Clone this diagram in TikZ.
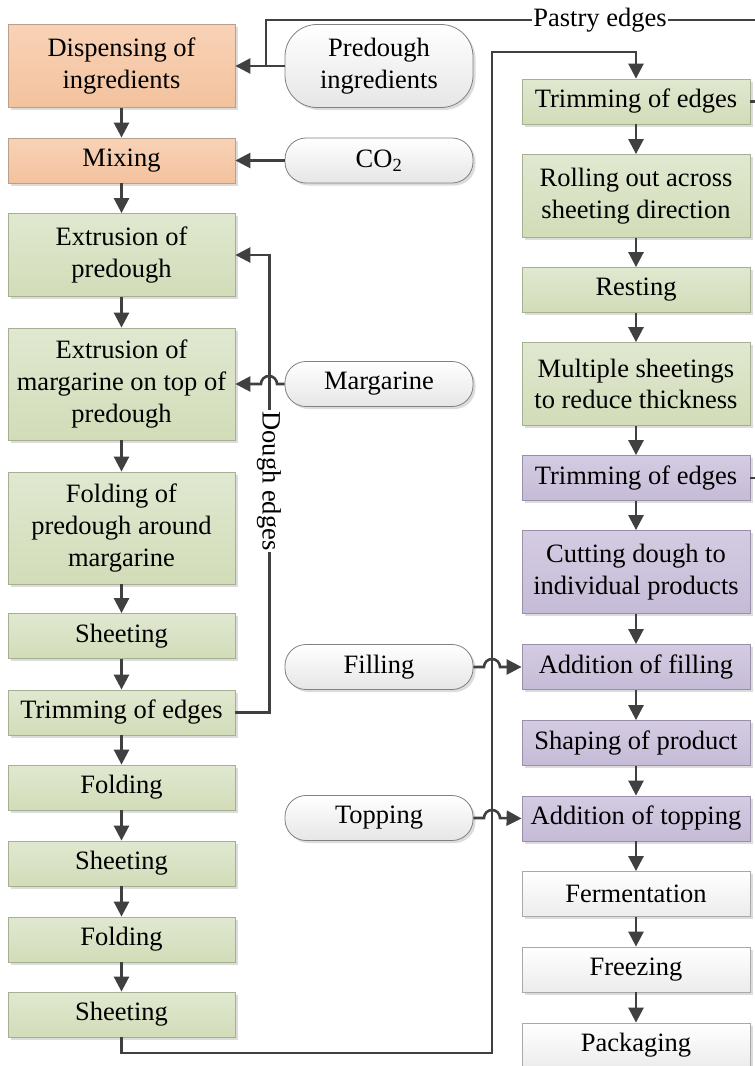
\documentclass[tikz,border=0pt]{standalone}
\usepackage{fontspec}
\setmainfont{Liberation Serif}
\usetikzlibrary{arrows.meta,shadows}
\definecolor{ln}{HTML}{404040}
\definecolor{ortop}{HTML}{F9D2B6}
\definecolor{orbot}{HTML}{F3C29E}
\definecolor{orbd}{HTML}{B9A08E}
\definecolor{grtop}{HTML}{E0E8D0}
\definecolor{grbot}{HTML}{D2DCB8}
\definecolor{grbd}{HTML}{A5AF92}
\definecolor{putop}{HTML}{D4CCE2}
\definecolor{pubot}{HTML}{C5BBD7}
\definecolor{pubd}{HTML}{9890A8}
\definecolor{whbot}{HTML}{ECECEC}
\definecolor{whbd}{HTML}{A8A8A8}
\definecolor{pillbot}{HTML}{E6E6E6}
\definecolor{pillbd}{HTML}{808080}
\begin{document}
\begin{tikzpicture}[x=1pt,y=-1pt,
  txt/.style={font=\fontsize{26.5}{31.7}\selectfont},
  base/.style={txt, draw, line width=0.8pt, inner sep=0pt, align=center,
    drop shadow={shadow xshift=2.5pt,shadow yshift=-2.5pt,opacity=0.3,fill=black!45}},
  lbox/.style={base, minimum width=227pt},
  rbox/.style={base, minimum width=228pt},
  fillor/.style={draw=orbd, top color=ortop, bottom color=orbot},
  fillgr/.style={draw=grbd, top color=grtop, bottom color=grbot},
  fillpu/.style={draw=pubd, top color=putop, bottom color=pubot},
  fillwh/.style={draw=whbd, top color=white, bottom color=whbot},
  hone/.style={minimum height=45pt},
  htwo/.style={minimum height=83pt},
  hthree/.style={minimum height=112pt},
  pill/.style={base, minimum width=188pt, draw=pillbd, top color=white, bottom color=pillbot},
  con/.style={draw=ln, line width=2.6pt},
  arr/.style={con, -{Triangle[length=15pt,width=15pt]}},
  lbl/.style={txt, fill=white, inner sep=1pt}
]
\fill[white] (0,0) rectangle (755,1066);
\useasboundingbox (0,0) rectangle (755,1066);
\clip (0,0) rectangle (755,1066);

% left column
\node[lbox,htwo,fillor] (L1) at (121.5,66) {Dispensing of\\ingredients};
\node[lbox,hone,fillor] (L2) at (121.5,160.5) {Mixing};
\node[lbox,htwo,fillgr] (L3) at (121.5,255) {Extrusion of\\predough};
\node[lbox,hthree,fillgr] (L4) at (121.5,384) {Extrusion of\\margarine on top of\\predough};
\node[lbox,hthree,fillgr] (L5) at (121.5,528) {Folding of\\predough around\\margarine};
\node[lbox,hone,fillgr] (L6) at (121.5,636) {Sheeting};
\node[lbox,hone,fillgr] (L7) at (121.5,712.5) {Trimming of edges};
\node[lbox,hone,fillgr] (L8) at (121.5,787.5) {Folding};
\node[lbox,hone,fillgr] (L9) at (121.5,863.5) {Sheeting};
\node[lbox,hone,fillgr] (L10) at (121.5,939.5) {Folding};
\node[lbox,hone,fillgr] (L11) at (121.5,1014.5) {Sheeting};

% right column
\node[rbox,hone,fillgr] (R1) at (636,101.5) {Trimming of edges};
\node[rbox,htwo,fillgr] (R2) at (636,196) {Rolling out across\\sheeting direction};
\node[rbox,hone,fillgr] (R3) at (636,290) {Resting};
\node[rbox,htwo,fillgr] (R4) at (636,384) {Multiple sheetings\\to reduce thickness};
\node[rbox,hone,fillpu] (R5) at (636,478) {Trimming of edges};
\node[rbox,htwo,fillpu] (R6) at (636,572) {Cutting dough to\\individual products};
\node[rbox,hone,fillpu] (R7) at (636,667) {Addition of filling};
\node[rbox,hone,fillpu] (R8) at (636,743) {Shaping of product};
\node[rbox,hone,fillpu] (R9) at (636,818.5) {Addition of topping};
\node[rbox,hone,fillwh] (R10) at (636,894) {Fermentation};
\node[rbox,hone,fillwh] (R11) at (636,969.5) {Freezing};
\node[rbox,hone,fillwh] (R12) at (636,1045.5) {Packaging};

% pills
\node[pill,htwo,rounded corners=32pt] (P1) at (379,66) {Predough\\ingredients};
\node[pill,hone,rounded corners=21pt] (P2) at (379,160.5) {CO\textsubscript{2}};
\node[pill,hone,rounded corners=21pt] (P3) at (379,384) {Margarine};
\node[pill,hone,rounded corners=21pt] (P4) at (379,667) {Filling};
\node[pill,hone,rounded corners=21pt] (P5) at (379,818) {Topping};

% column arrows
\foreach \a/\b in {L1/L2,L2/L3,L3/L4,L4/L5,L5/L6,L6/L7,L7/L8,L8/L9,L9/L10,L10/L11,
                   R1/R2,R2/R3,R3/R4,R4/R5,R5/R6,R6/R7,R7/R8,R8/R9,R9/R10,R10/R11,R11/R12}
  \draw[arr] (\a.south) -- (\b.north);

% inputs
\draw[arr] (P1.west) -- (L1.east);
\draw[arr] (P2.west) -- (L2.east);
\coordinate (jm) at (269,384);
\draw[arr] (P3.west) -- ([xshift=8pt]jm) arc[start angle=0,end angle=180,radius=8pt] -- (L4.east);
\coordinate (jf) at (492,667);
\draw[arr] (P4.east) -- ([xshift=-8pt]jf) arc[start angle=180,end angle=0,radius=8pt] -- (R7.west);
\coordinate (jt) at (492,818);
\draw[arr] (P5.east) -- ([xshift=-8pt]jt) arc[start angle=180,end angle=0,radius=8pt] -- (R9.west);

% dough edges
\draw[arr] (L7.east) -| ([xshift=34pt]L3.east) -- (L3.east);
\node[lbl,rotate=-90] (de) at (269,481) {Dough edges};

% main transfer
\coordinate (c1) at (492,1053);
\coordinate (c2) at (492,52);
\draw[arr] (L11.south) |- (c1) -- (c2) -| (R1.north);

% pastry edges
\coordinate (pr) at (775,20);
\coordinate (j1) at (266,66);
\draw[con] (R1.east) -| (pr);
\draw[con] (R5.east) -| (pr);
\draw[con] (pr) -| (j1);
\node[lbl] (pe) at (600,20) {Pastry edges};
\end{tikzpicture}
\end{document}
